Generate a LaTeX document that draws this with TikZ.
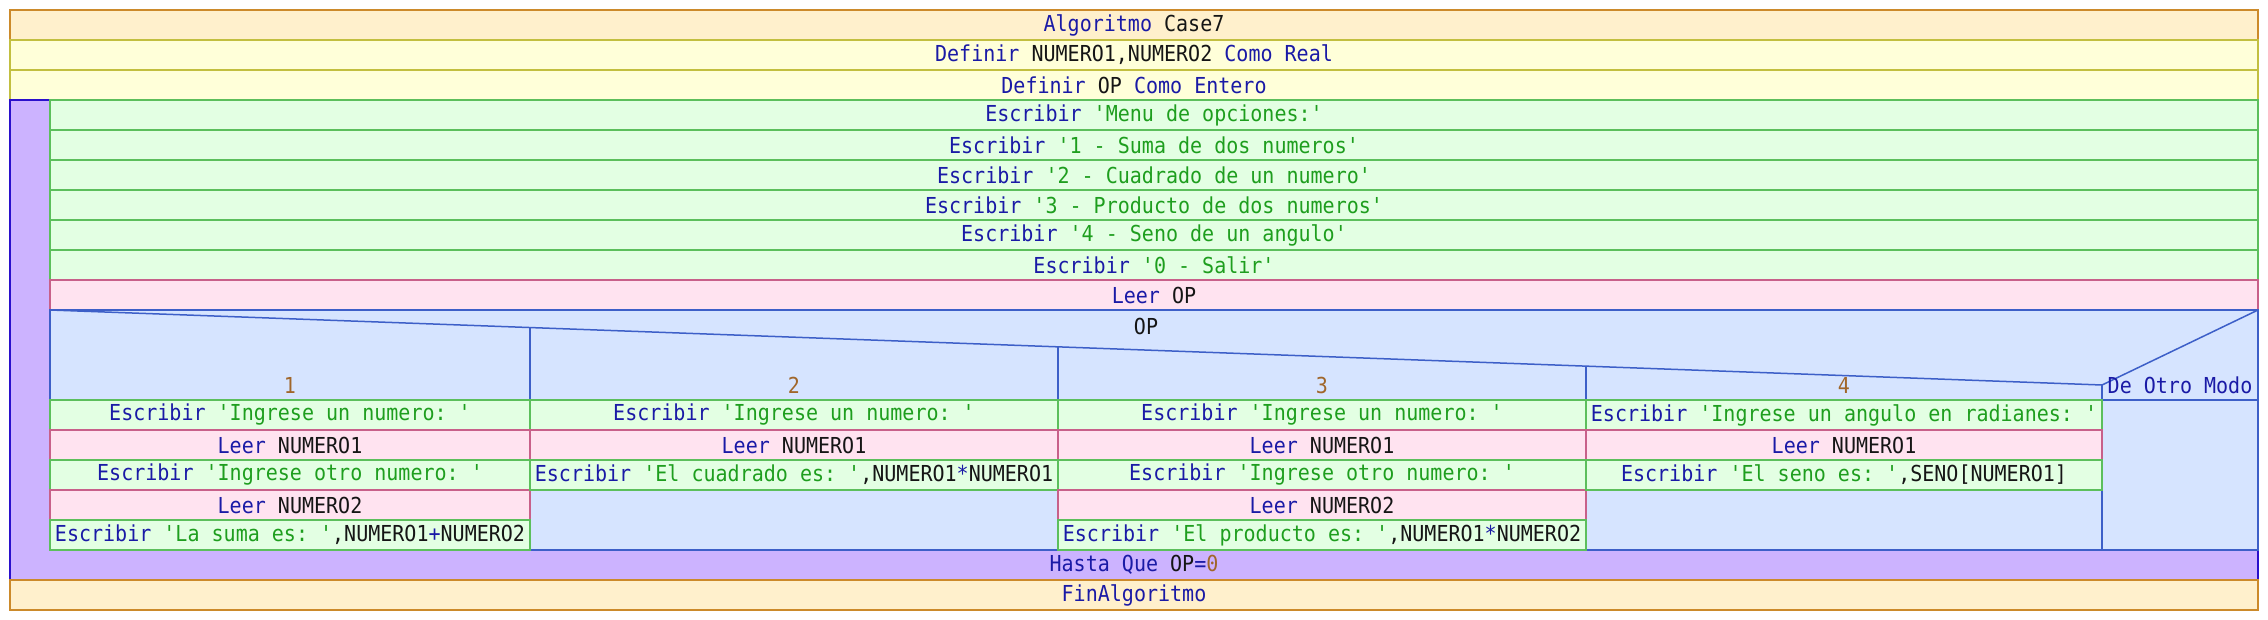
\documentclass[tikz,border=0pt]{standalone}
\usepackage{fontspec}
\setmonofont[FakeStretch=0.91]{DejaVu Sans Mono}
\usepackage{xcolor}
\usetikzlibrary{calc}

\definecolor{algfill}{HTML}{FFF0CC}
\definecolor{algline}{HTML}{CC8A2A}
\definecolor{deffill}{HTML}{FFFFD9}
\definecolor{defline}{HTML}{C2BF40}
\definecolor{escfill}{HTML}{E3FFE3}
\definecolor{escline}{HTML}{5CBF5C}
\definecolor{readfill}{HTML}{FFE3F0}
\definecolor{readline}{HTML}{C8608A}
\definecolor{swfill}{HTML}{D6E4FF}
\definecolor{swline}{HTML}{3D5FC8}
\definecolor{loopfill}{HTML}{CCB3FF}
\definecolor{loopline}{HTML}{2A10CC}
\definecolor{kwcol}{HTML}{1A1AA6}
\definecolor{strcol}{HTML}{1E9E1E}
\definecolor{numcol}{HTML}{A0662A}
\definecolor{idcol}{HTML}{151515}

\newcommand{\kwtxt}[1]{\textcolor{kwcol}{#1}}
\newcommand{\strtxt}[1]{\textcolor{strcol}{#1}}
\newcommand{\numtxt}[1]{\textcolor{numcol}{#1}}

\begin{document}
\begin{tikzpicture}[x=1pt, y=-1pt,
  font=\ttfamily\fontsize{22}{26}\selectfont,
  every node/.style={text=idcol},
  box/.style={draw, line width=1.5pt, inner sep=0pt, outer sep=0pt, minimum height=30pt},
  algbox/.style={box, fill=algfill, draw=algline, minimum width=2248pt},
  defbox/.style={box, fill=deffill, draw=defline, minimum width=2248pt},
  escbox/.style={box, fill=escfill, draw=escline},
  readbox/.style={box, fill=readfill, draw=readline},
  loopbox/.style={draw=loopline, fill=loopfill, line width=1.5pt, inner sep=0pt, outer sep=0pt},
  swbox/.style={draw=swline, fill=swfill, line width=1.5pt, inner sep=0pt, outer sep=0pt},
  caseline/.style={draw=swline, line width=1.5pt},
  caselabel/.style={anchor=base}
]
\useasboundingbox (0,0) rectangle (2268,620);

% Header
\node[algbox] (alg) at (1134,25) {\kwtxt{Algoritmo} Case7};
\node[defbox] (def1) at (1134,55) {\kwtxt{Definir} NUMERO1,NUMERO2 \kwtxt{Como Real}};
\node[defbox] (def2) at (1134,85) {\kwtxt{Definir} OP \kwtxt{Como Entero}};

% Repeat loop
\node[loopbox, minimum width=2248pt, minimum height=480pt] (loop) at (1134,340) {};
\node[escbox, minimum width=2208pt] (menu) at (1154,115) {\kwtxt{Escribir} \strtxt{'Menu de opciones:'}};
\node[escbox, minimum width=2208pt] (opt1) at (1154,145) {\kwtxt{Escribir} \strtxt{'1 - Suma de dos numeros'}};
\node[escbox, minimum width=2208pt] (opt2) at (1154,175) {\kwtxt{Escribir} \strtxt{'2 - Cuadrado de un numero'}};
\node[escbox, minimum width=2208pt] (opt3) at (1154,205) {\kwtxt{Escribir} \strtxt{'3 - Producto de dos numeros'}};
\node[escbox, minimum width=2208pt] (opt4) at (1154,235) {\kwtxt{Escribir} \strtxt{'4 - Seno de un angulo'}};
\node[escbox, minimum width=2208pt] (opt0) at (1154,265) {\kwtxt{Escribir} \strtxt{'0 - Salir'}};
\node[readbox, minimum width=2208pt] (readop) at (1154,295) {\kwtxt{Leer} OP};

% Switch header
\node[swbox, minimum width=2208pt, minimum height=240pt] (sw) at (1154,430) {};
\node (sel) at (1146,326) {OP};
\coordinate (split) at (2102,385);
\draw[caseline] (sw.north west) -- (split) -- (sw.north east);
\foreach \f/\n in {0.2339/a, 0.4912/b, 0.7485/c}
  \coordinate (cut\n) at ($(sw.north west)!\f!(split)$);
\draw[caseline] (cuta) -- (cuta |- sw.south);
\draw[caseline] (cutb) -- (cutb |- sw.south);
\draw[caseline] (cutc) -- (cutc |- sw.south);
\draw[caseline] (split) -- (split |- sw.south);
\coordinate (dflt) at (2102,400);
\draw[caseline] (dflt) -- (dflt -| sw.east);

\node[caselabel] (lab1) at (290,393) {\numtxt{1}};
\node[caselabel] (lab2) at (794,393) {\numtxt{2}};
\node[caselabel] (lab3) at (1322,393) {\numtxt{3}};
\node[caselabel] (lab4) at (1844,393) {\numtxt{4}};
\node[caselabel] (labd) at (2180,393) {\kwtxt{De Otro Modo}};

% Case 1
\node[escbox, minimum width=480pt] (a1) at (290,415) {\kwtxt{Escribir} \strtxt{'Ingrese un numero: '}};
\node[readbox, minimum width=480pt] (a2) at (290,445) {\kwtxt{Leer} NUMERO1};
\node[escbox, minimum width=480pt] (a3) at (290,475) {\kwtxt{Escribir} \strtxt{'Ingrese otro numero: '}};
\node[readbox, minimum width=480pt] (a4) at (290,505) {\kwtxt{Leer} NUMERO2};
\node[escbox, minimum width=480pt] (a5) at (290,535) {\kwtxt{Escribir} \strtxt{'La suma es: '},NUMERO1\kwtxt{+}NUMERO2};

% Case 2
\node[escbox, minimum width=528pt] (b1) at (794,415) {\kwtxt{Escribir} \strtxt{'Ingrese un numero: '}};
\node[readbox, minimum width=528pt] (b2) at (794,445) {\kwtxt{Leer} NUMERO1};
\node[escbox, minimum width=528pt] (b3) at (794,475) {\kwtxt{Escribir} \strtxt{'El cuadrado es: '},NUMERO1\kwtxt{*}NUMERO1};

% Case 3
\node[escbox, minimum width=528pt] (c1) at (1322,415) {\kwtxt{Escribir} \strtxt{'Ingrese un numero: '}};
\node[readbox, minimum width=528pt] (c2) at (1322,445) {\kwtxt{Leer} NUMERO1};
\node[escbox, minimum width=528pt] (c3) at (1322,475) {\kwtxt{Escribir} \strtxt{'Ingrese otro numero: '}};
\node[readbox, minimum width=528pt] (c4) at (1322,505) {\kwtxt{Leer} NUMERO2};
\node[escbox, minimum width=528pt] (c5) at (1322,535) {\kwtxt{Escribir} \strtxt{'El producto es: '},NUMERO1\kwtxt{*}NUMERO2};

% Case 4
\node[escbox, minimum width=516pt] (d1) at (1844,415) {\kwtxt{Escribir} \strtxt{'Ingrese un angulo en radianes: '}};
\node[readbox, minimum width=516pt] (d2) at (1844,445) {\kwtxt{Leer} NUMERO1};
\node[escbox, minimum width=516pt] (d3) at (1844,475) {\kwtxt{Escribir} \strtxt{'El seno es: '},SENO[NUMERO1]};

% Loop condition and end
\node (until) at (1134,565) {\kwtxt{Hasta Que} OP\kwtxt{=}\numtxt{0}};
\node[algbox] (fin) at (1134,595) {\kwtxt{FinAlgoritmo}};
\end{tikzpicture}
\end{document}
